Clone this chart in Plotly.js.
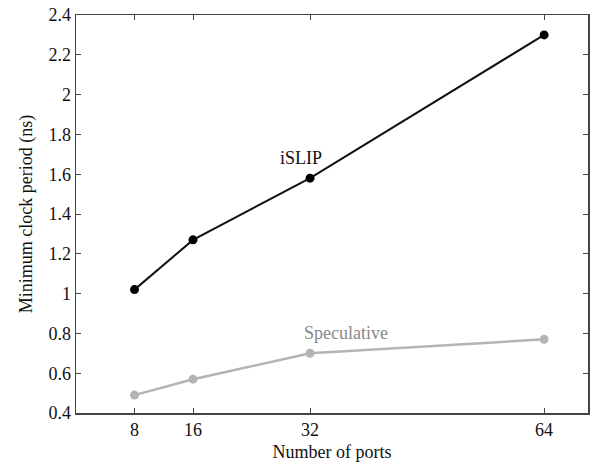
<!DOCTYPE html>
<html><head><meta charset="utf-8">
<script src="https://cdn.plot.ly/plotly-3.0.1.min.js"></script>
<style>html,body{margin:0;padding:0;background:#fff}#chart{width:593px;height:464px}</style>
</head><body><div id="chart"></div>
<script>
const ports = [8, 16, 32, 64];
const islip = [1.02, 1.27, 1.58, 2.30];
const speculative = [0.49, 0.57, 0.70, 0.77];
const xTicks = [8, 16, 32, 64];
const yTicks = [0.4, 0.6, 0.8, 1, 1.2, 1.4, 1.6, 1.8, 2, 2.2, 2.4];
const yTickText = ['0.4','0.6','0.8','1','1.2','1.4','1.6','1.8','2','2.2','2.4'];

const font = {family: '"Liberation Serif", "Times New Roman", serif', color: '#111'};
const traces = [
  {x: ports, y: islip, mode: 'lines+markers', line: {color: '#111', width: 2}, marker: {color: '#000', size: 9}, showlegend: false},
  {x: ports, y: speculative, mode: 'lines+markers', line: {color: '#b4b4b4', width: 2.5}, marker: {color: '#b4b4b4', size: 9}, showlegend: false}
];
const axisCommon = {showgrid: false, zeroline: false, showline: true, linecolor: '#444', linewidth: 1.5, mirror: 'ticks', ticks: 'inside', ticklen: 5, tickcolor: '#444', tickfont: Object.assign({size: 18}, font)};
const layout = {
  width: 593, height: 464,
  margin: {l: 76, r: 5, t: 15, b: 51},
  paper_bgcolor: '#fff', plot_bgcolor: '#fff',
  font: font,
  xaxis: Object.assign({}, axisCommon, {range: [0, 70], tickvals: xTicks, ticktext: xTicks.map(String), title: {text: 'Number of ports', font: Object.assign({size: 18}, font), standoff: 6}}),
  yaxis: Object.assign({}, axisCommon, {range: [0.4, 2.4], tickvals: yTicks, ticktext: yTickText, title: {text: 'Minimum clock period (ns)', font: Object.assign({size: 18}, font), standoff: 11}}),
  annotations: [
    {x: 30.8, y: 1.68, xref: 'x', yref: 'y', text: 'iSLIP', showarrow: false, font: {family: font.family, size: 18, color: '#111'}},
    {x: 36.9, y: 0.80, xref: 'x', yref: 'y', text: 'Speculative', showarrow: false, font: {family: font.family, size: 18, color: '#888'}}
  ]
};
Plotly.newPlot('chart', traces, layout, {displayModeBar: false, staticPlot: true});
</script></body></html>
